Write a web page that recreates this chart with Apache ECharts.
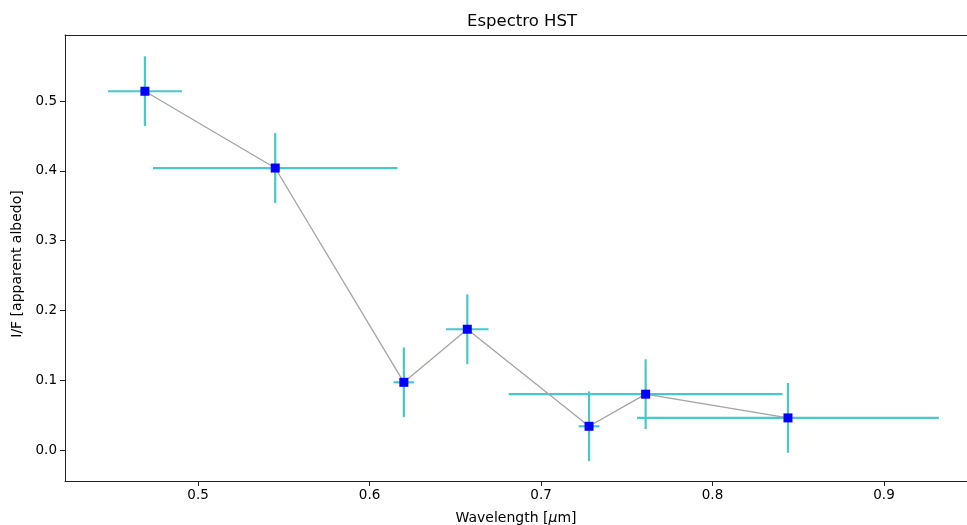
<!DOCTYPE html>
<html>
<head>
<meta charset="utf-8">
<script src="https://cdn.jsdelivr.net/npm/echarts@6/dist/echarts.min.js"></script>
<style>
  html, body { margin: 0; padding: 0; background: #fff; }
  #chart { width: 967px; height: 525px; }
</style>
</head>
<body>
<div id="chart"></div>
<script>
// HST photometry: central wavelength, filter half-width and apparent albedo
const wavelengths = [0.469, 0.545, 0.620, 0.657, 0.728, 0.761, 0.844];
const albedo      = [0.514, 0.404, 0.097, 0.173, 0.034, 0.080, 0.046];
const xErr        = [0.0216, 0.0713, 0.0060, 0.0124, 0.0061, 0.0798, 0.0880];
const yErr        = [0.05, 0.05, 0.05, 0.05, 0.05, 0.05, 0.05];
const xTicks = [0.5, 0.6, 0.7, 0.8, 0.9];
const yTicks = [0.0, 0.1, 0.2, 0.3, 0.4, 0.5];

const FONT = 'DejaVu Sans';
const points = wavelengths.map((w, i) => [w, albedo[i]]);
const errRows = wavelengths.map((w, i) => [w, albedo[i], xErr[i], yErr[i]]);

const chart = echarts.init(document.getElementById('chart'), null, { renderer: 'canvas' });

const axisLine = { show: true, onZero: false, lineStyle: { color: '#222', width: 1 } };
const axisTick = { show: true, length: 5, lineStyle: { color: '#222', width: 1 } };

chart.setOption({
  animation: false,
  backgroundColor: '#fff',
  title: {
    text: 'Espectro HST',
    left: 517, top: 8, textAlign: 'center',
    textStyle: { fontFamily: FONT, fontSize: 16.5, fontWeight: 'normal', color: '#000' }
  },
  grid: { left: 65, right: 0, top: 35, bottom: 44, containLabel: false, outerBoundsMode: 'none' },
  xAxis: [{
    type: 'value', min: 0.4224, max: 0.9484,
    axisLine: axisLine,
    axisTick: Object.assign({ customValues: xTicks }, axisTick),
    axisLabel: {
      customValues: xTicks, margin: 7,
      fontFamily: FONT, fontSize: 13.5, color: '#000',
      formatter: v => v.toFixed(1)
    },
    splitLine: { show: false },
    name: 'Wavelength [{i|μ}m]',
    nameLocation: 'middle', nameGap: 30,
    nameTextStyle: {
      fontFamily: FONT, fontSize: 14, color: '#000',
      rich: { i: { fontFamily: FONT, fontSize: 14, fontStyle: 'italic', color: '#000' } }
    }
  }, {
    type: 'value', position: 'top', min: 0.4224, max: 0.9484,
    axisLine: axisLine, axisTick: { show: false }, axisLabel: { show: false },
    splitLine: { show: false }
  }],
  yAxis: {
    type: 'value', min: -0.0444, max: 0.5946,
    axisLine: axisLine,
    axisTick: Object.assign({ customValues: yTicks }, axisTick),
    axisLabel: {
      customValues: yTicks, margin: 8,
      fontFamily: FONT, fontSize: 13.5, color: '#000',
      formatter: v => v.toFixed(1)
    },
    splitLine: { show: false },
    name: 'I/F [apparent albedo]',
    nameLocation: 'middle', nameGap: 40,
    nameTextStyle: { fontFamily: FONT, fontSize: 14, color: '#000', padding: [0, 12, 0, 0] }
  },
  series: [
    {
      // horizontal (filter width) and vertical (uncertainty) error bars
      type: 'custom',
      data: errRows,
      z: 1,
      clip: false,
      renderItem: (params, api) => {
        const x = api.value(0), y = api.value(1), dx = api.value(2), dy = api.value(3);
        const l = api.coord([x - dx, y]);
        const r = api.coord([x + dx, y]);
        const t = api.coord([x, y + dy]);
        const b = api.coord([x, y - dy]);
        const style = { stroke: '#48c8c8', lineWidth: 2.2, fill: null };
        return {
          type: 'group',
          children: [
            { type: 'line', shape: { x1: l[0], y1: l[1], x2: r[0], y2: r[1] }, style: style },
            { type: 'line', shape: { x1: t[0], y1: t[1], x2: b[0], y2: b[1] }, style: style }
          ]
        };
      }
    },
    {
      type: 'line',
      data: points,
      z: 2,
      symbol: 'none',
      lineStyle: { color: '#a3a3a3', width: 1.3 }
    },
    {
      type: 'scatter',
      data: points,
      z: 3,
      symbol: 'rect',
      symbolSize: 9,
      itemStyle: { color: '#0000ff', opacity: 1 }
    }
  ]
});
</script>
</body>
</html>
